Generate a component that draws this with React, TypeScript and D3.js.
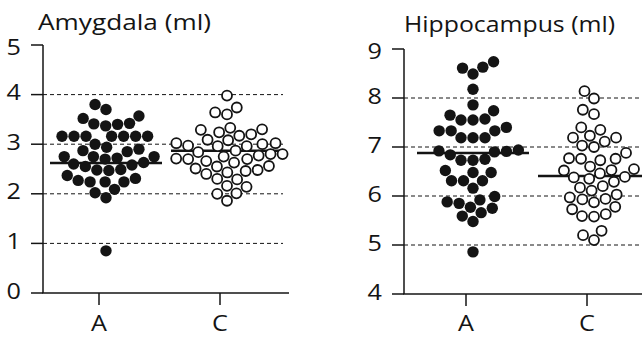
import React from 'react';
import * as d3 from 'd3';

const groups = ['A', 'C'];

// values (ml)
const amygdalaA = [
  3.70, 3.80, 3.57, 3.52, 3.42, 3.41, 3.37, 3.40,
  3.16, 3.16, 3.16, 3.16, 3.16, 3.16, 3.16,
  2.94, 3.00, 2.87, 2.90, 2.85,
  2.75, 2.70, 2.75, 2.75, 2.72,
  2.60, 2.55, 2.58, 2.63,
  2.48, 2.47, 2.49, 2.37,
  2.24, 2.24, 2.24, 2.31, 2.27,
  2.02, 2.09, 1.92, 0.85,
];
const amygdalaC = [
  3.98, 3.74, 3.60, 3.64, 3.29, 3.33, 3.30, 3.20, 3.24, 3.17,
  3.02, 3.02, 2.96, 3.00, 3.08, 2.96, 2.97, 3.09, 2.87,
  2.77, 2.70, 2.80, 2.80, 2.84, 2.75, 2.71, 2.70,
  2.55, 2.63, 2.66, 2.56, 2.51, 2.46, 2.48, 2.43, 2.40,
  2.30, 2.29, 2.16, 2.14, 2.00, 2.01, 1.86,
];
const amygdalaMeans = [2.62, 2.87];

const hippoA = [
  8.74, 8.61, 8.63, 8.49, 8.18, 7.86, 7.74, 7.65, 7.57, 7.55, 7.55,
  7.40, 7.33, 7.33, 7.33, 7.19, 7.19, 7.19,
  6.84, 6.90, 6.92, 6.91, 6.94, 6.75, 6.73, 6.73,
  6.48, 6.52, 6.48, 6.31, 6.31, 6.31, 6.16,
  5.99, 5.92, 5.88, 5.85, 5.75, 5.77, 5.59, 5.66, 5.48, 4.86,
];
const hippoC = [
  8.14, 7.99, 7.76, 7.67, 7.40, 7.35, 7.23, 7.19, 7.19, 7.11, 7.03, 7.00,
  6.88, 6.77, 6.73, 6.76, 6.76, 6.60, 6.55, 6.52, 6.53, 6.46,
  6.38, 6.35, 6.39, 6.29, 6.20, 6.17, 6.11, 6.03,
  5.93, 5.97, 5.94, 5.87, 5.78, 5.73, 5.63, 5.59, 5.58,
  5.29, 5.20, 5.10,
];
const hippoMeans = [6.88, 6.41];

const amygdalaTicks = [0, 1, 2, 3, 4, 5];
const amygdalaGrid = [1, 2, 3, 4];
const hippoTicks = [4, 5, 6, 7, 8, 9];
const hippoGrid = [5, 6, 7, 8];

const INK = '#141414';
const FONT = '"Open Sans", "DejaVu Sans", sans-serif';
const LABEL_Y = 331;

// simple greedy beeswarm: place each point as close to the centre as it can go
function beeswarm(values: number[], y: (v: number) => number, d: number) {
  const items = values.map((v) => ({ v, py: y(v), dx: 0 }));
  const order = items.slice().sort((a, b) => a.v - b.v);
  const placed: typeof items = [];
  for (const it of order) {
    const cands = [0];
    for (const p of placed) {
      const dy = Math.abs(p.py - it.py);
      if (dy < d) {
        const w = Math.sqrt(d * d - dy * dy);
        cands.push(p.dx - w, p.dx + w);
      }
    }
    cands.sort((a, b) => Math.abs(a) - Math.abs(b) || a - b);
    for (const c of cands) {
      if (placed.every((p) => (p.dx - c) ** 2 + (p.py - it.py) ** 2 >= d * d - 0.01)) {
        it.dx = c;
        break;
      }
    }
    placed.push(it);
  }
  return items;
}

function Panel({ title, titleX, titleY, titleLen, domain, yRange, axisX, axisEnd, gridEnd, xRange, ticks, grid, seriesA, seriesC, means }) {
  const y = d3.scaleLinear().domain(domain).range(yRange);
  const x = d3.scalePoint().domain(groups).range(xRange);
  const shift = 7;
  const half = 56;
  const swarmA = beeswarm(seriesA, y, 12);
  const swarmC = beeswarm(seriesC, y, 12);
  const base = y(domain[0]);
  const top = y(domain[1]);

  return (
    <g>
      <text x={titleX} y={titleY} fontSize={21} fontFamily={FONT} fill={INK}
        textLength={titleLen} lengthAdjust="spacingAndGlyphs">{title}</text>

      {grid.map((g) => (
        <line key={'g' + g} x1={axisX} x2={gridEnd} y1={y(g)} y2={y(g)}
          stroke={INK} strokeWidth={1} strokeDasharray="4 3" />
      ))}

      <line x1={axisX} x2={axisX} y1={top} y2={base} stroke={INK} strokeWidth={1.5} />
      <line x1={axisX - 0.75} x2={axisEnd} y1={base} y2={base} stroke={INK} strokeWidth={1.5} />
      {ticks.map((t) => (
        <g key={'t' + t}>
          <line x1={axisX - 12} x2={axisX} y1={y(t)} y2={y(t)} stroke={INK} strokeWidth={1.5} />
          <text transform={`translate(${axisX - 22},${y(t) + (t === domain[1] ? 10 : 5.5)}) scale(1.2,1)`}
            textAnchor="end" fontSize={21} fontFamily={FONT} fill={INK}>{t}</text>
        </g>
      ))}
      {groups.map((g) => (
        <g key={'x' + g}>
          <line x1={x(g)} x2={x(g)} y1={base} y2={base + 12} stroke={INK} strokeWidth={1.5} />
          <text transform={`translate(${x(g)},${LABEL_Y}) scale(1.2,1)`}
            textAnchor="middle" fontSize={21} fontFamily={FONT} fill={INK}>{g}</text>
        </g>
      ))}

      {means.map((m, i) => (
        <line key={'m' + i} x1={x(groups[i]) + shift - half} x2={x(groups[i]) + shift + half}
          y1={y(m)} y2={y(m)} stroke={INK} strokeWidth={2.5} />
      ))}

      {swarmA.map((p, i) => (
        <circle key={'a' + i} cx={x('A') + shift + p.dx} cy={p.py} r={5.7} fill={INK} />
      ))}
      {swarmC.map((p, i) => (
        <circle key={'c' + i} cx={x('C') + shift + p.dx} cy={p.py} r={5} fill="#fff" stroke={INK} strokeWidth={1.8} />
      ))}
    </g>
  );
}

export default function App() {
  return (
    <svg width={642} height={337} style={{ position: 'absolute', left: 0, top: 0 }}>
      <rect width={642} height={337} fill="#fff" />
      <Panel title="Amygdala (ml)" titleX={38} titleY={29.5} titleLen={173}
        domain={[0, 5]} yRange={[293, 45]} axisX={43} axisEnd={289} gridEnd={283}
        xRange={[99, 220]} ticks={amygdalaTicks} grid={amygdalaGrid}
        seriesA={amygdalaA} seriesC={amygdalaC} means={amygdalaMeans} />
      <Panel title="Hippocampus (ml)" titleX={404} titleY={31.5} titleLen={211}
        domain={[4, 9]} yRange={[294, 49]} axisX={404} axisEnd={645} gridEnd={645}
        xRange={[466, 587]} ticks={hippoTicks} grid={hippoGrid}
        seriesA={hippoA} seriesC={hippoC} means={hippoMeans} />
    </svg>
  );
}
